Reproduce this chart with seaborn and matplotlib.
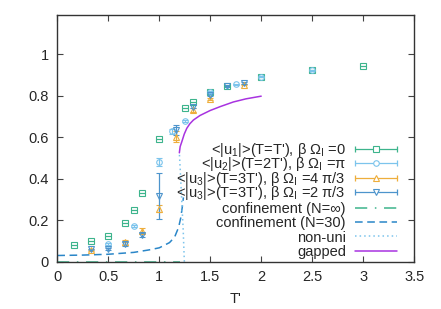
"""Order-parameter <|u|> against T' with confinement / gapped curves."""

import matplotlib
matplotlib.use("Agg")
import matplotlib.pyplot as plt
import numpy as np
import pandas as pd
import seaborn as sns
from matplotlib.legend_handler import HandlerBase
from matplotlib.lines import Line2D

# --- data ------------------------------------------------------------------
u1_x = [1/6, 1/3, 1/2, 2/3, 0.75, 5/6, 1.0, 1.25, 4/3, 1.5, 5/3, 2.0, 2.5, 3.0]
u1_y = [0.080, 0.101, 0.125, 0.188, 0.249, 0.329, 0.593, 0.742, 0.772,
        0.819, 0.848, 0.891, 0.923, 0.944]
u1_err = [0.0] * len(u1_x)

u2_x = [0.5, 0.75, 1.0, 1.125, 1.25, 1.5, 1.75, 2.0, 2.5]
u2_y = [0.085, 0.172, 0.482, 0.628, 0.679, 0.819, 0.856, 0.891, 0.923]
u2_err = [0.004, 0.004, 0.02, 0.012, 0.006, 0.004, 0.003, 0.003, 0.003]

u3a_x = [1/3, 2/3, 5/6, 1.0, 7/6, 4/3, 1.5, 11/6]
u3a_y = [0.058, 0.093, 0.148, 0.255, 0.603, 0.731, 0.784, 0.854]
u3a_err = [0.004, 0.01, 0.016, 0.016, 0.028, 0.008, 0.005, 0.004]

u3b_x = [1/3, 1/2, 2/3, 5/6, 1.0, 7/6, 4/3, 1.5, 5/3, 11/6]
u3b_y = [0.060, 0.061, 0.085, 0.130, 0.318, 0.634, 0.748, 0.803, 0.846, 0.863]
u3b_err = [0.003, 0.003, 0.008, 0.01, 0.11, 0.025, 0.008, 0.005, 0.004, 0.004]

conf_inf_x = [0.0, 1.2]
conf_inf_y = [0.0, 0.0]

conf30_x = [0.0, 0.25, 0.5, 0.75, 0.9, 1.0, 1.1, 1.15, 1.19, 1.21, 1.225, 1.237]
conf30_y = [0.030, 0.032, 0.036, 0.045, 0.057, 0.067, 0.092, 0.118, 0.166,
            0.21, 0.26, 0.31]

nonuni_x = [1.246, 1.235, 1.22, 1.205, 1.197]
nonuni_y = [0.0, 0.15, 0.3, 0.45, 0.525]

gapped_x = [1.197, 1.205, 1.221, 1.245, 1.27, 1.3, 1.335, 1.4, 1.5, 1.6,
            1.727, 1.85, 2.0]
gapped_y = [0.525, 0.555, 0.578, 0.615, 0.643, 0.665, 0.683, 0.705, 0.729,
            0.748, 0.770, 0.785, 0.798]

point_labels = [
    r"<|u$_1$|>(T=T'), β Ω$_\mathrm{I}$ =0",
    r"<|u$_2$|>(T=2T'), β Ω$_\mathrm{I}$ =π",
    r"<|u$_3$|>(T=3T'), β Ω$_\mathrm{I}$ =4 π/3",
    r"<|u$_3$|>(T=3T'), β Ω$_\mathrm{I}$ =2 π/3",
]
curve_labels = [
    "confinement (N=∞)",
    "confinement (N=30)",
    "non-uni",
    "gapped",
]

GREEN = "#3db48c"
SKY = "#7cc4ec"
ORANGE = "#eeae3c"
BLUE = "#4d94cc"
DARKBLUE = "#2a86c8"
PURPLE = "#a833e0"


class HandlerGnuErr(HandlerBase):
    """gnuplot-like key sample: line with end caps and a marker in the middle."""

    def create_artists(self, legend, orig_handle, xdescent, ydescent,
                       width, height, fontsize, trans):
        y = height / 2 - ydescent
        x0, x1 = -xdescent, width - xdescent
        c = orig_handle.get_color()
        bar = Line2D([x0, x1], [y, y], color=c, lw=0.9, marker="|",
                     markersize=5, markeredgewidth=0.9, transform=trans)
        mark = Line2D([(x0 + x1) / 2], [y], color=c, ls="none",
                      marker=orig_handle.get_marker(), markersize=4,
                      mfc="white", mec=c, mew=0.8, transform=trans)
        return [bar, mark]


sns.set_style("ticks")
plt.rcParams["font.family"] = ["Liberation Sans", "DejaVu Sans"]
plt.rcParams["mathtext.fontset"] = "custom"
plt.rcParams["mathtext.rm"] = "Liberation Sans"
plt.rcParams["mathtext.it"] = "Liberation Sans:italic"

fig = plt.figure(figsize=(4.41, 3.09), dpi=100)
ax = fig.add_axes([0.130, 0.153, 0.809, 0.799])

series = [
    (u1_x, u1_y, u1_err, "s", GREEN),
    (u2_x, u2_y, u2_err, "o", SKY),
    (u3a_x, u3a_y, u3a_err, "^", ORANGE),
    (u3b_x, u3b_y, u3b_err, "v", BLUE),
]
point_handles = []
for xs, ys, es, mk, col in series:
    ax.errorbar(xs, ys, yerr=es, fmt=mk, color=col, ms=4, mfc="none",
                mec=col, mew=0.8, elinewidth=0.9, capsize=2, capthick=0.9,
                zorder=3)
    point_handles.append(Line2D([], [], color=col, marker=mk))

curves = pd.concat([
    pd.DataFrame({"x": conf_inf_x, "y": conf_inf_y, "curve": curve_labels[0]}),
    pd.DataFrame({"x": conf30_x, "y": conf30_y, "curve": curve_labels[1]}),
    pd.DataFrame({"x": nonuni_x, "y": nonuni_y, "curve": curve_labels[2]}),
    pd.DataFrame({"x": gapped_x, "y": gapped_y, "curve": curve_labels[3]}),
])
curve_styles = {
    curve_labels[0]: (GREEN, (0, (8, 5, 1, 5))),
    curve_labels[1]: (DARKBLUE, (0, (5, 3))),
    curve_labels[2]: (SKY, (0, (1, 2))),
    curve_labels[3]: (PURPLE, "-"),
}
curve_handles = []
for name, grp in curves.groupby("curve", sort=False):
    col, ls = curve_styles[name]
    sns.lineplot(data=grp, x="x", y="y", ax=ax, color=col, sort=False,
                 estimator=None, lw=1.1, linestyle=ls, zorder=2)
    curve_handles.append(Line2D([], [], color=col, lw=1.1, linestyle=ls))

ax.set_xlim(0, 3.5)
ax.set_ylim(0, 1.19)
ax.set_xticks(np.arange(0, 3.51, 0.5))
ax.set_xticklabels(["0", "0.5", "1", "1.5", "2", "2.5", "3", "3.5"])
ax.set_yticks([0, 0.2, 0.4, 0.6, 0.8, 1.0])
ax.set_yticklabels(["0", "0.2", "0.4", "0.6", "0.8", "1"])
ax.tick_params(direction="in", length=4, width=0.8, top=True, right=True,
               labelsize=10.5, color="#444444", pad=6)
for sp in ax.spines.values():
    sp.set_visible(True)
    sp.set_linewidth(1.0)
    sp.set_color("#333333")
ax.set_xlabel("T'", fontsize=10.5, labelpad=6)
ax.set_ylabel("")

legend_kw = dict(frameon=False, markerfirst=False, fontsize=10.5,
                 handlelength=2.9, handletextpad=0.6, borderpad=0,
                 borderaxespad=0)
leg1 = ax.legend(point_handles, point_labels, loc="upper right",
                 bbox_to_anchor=(0.952, 0.488), labelspacing=-0.26,
                 handler_map={h: HandlerGnuErr() for h in point_handles},
                 **legend_kw)
ax.add_artist(leg1)
ax.legend(curve_handles, curve_labels, loc="lower right",
          bbox_to_anchor=(0.952, 0.011), labelspacing=0.03, **legend_kw)

fig.savefig("out.png", dpi=100)
